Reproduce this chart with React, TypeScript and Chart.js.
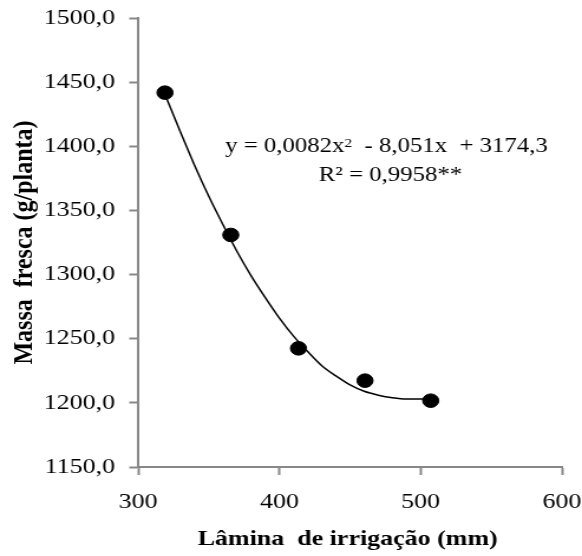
import React, { useEffect, useRef } from "react";
import { Chart, registerables } from "chart.js";

Chart.register(...registerables);

const irrigation = [319, 365.6, 413.5, 460.6, 507.1];
const freshMass = [1441.8, 1330.9, 1242.5, 1217.3, 1201.7];

const trendX = [318, 330, 340, 350, 360, 370, 380, 390, 400, 410, 420, 430, 440, 450, 460, 470, 480, 490, 500, 508];
const trendY = [1443, 1411, 1385, 1361, 1339, 1318, 1299, 1282, 1266, 1252, 1240, 1229, 1221, 1214, 1209, 1206, 1204, 1203, 1203, 1203.5];

const xTicks = [300, 400, 500, 600];
const yTicks = [1150, 1200, 1250, 1300, 1350, 1400, 1450, 1500];

const equationLine1 = ["y = 0,0082x", "2", "  - 8,051x  + 3174,3"];
const equationLine2 = "R² = 0,9958**";
const xTitle = "Lâmina  de irrigação (mm)";
const yTitle = "Massa  fresca (g/planta)";

const FONT = "'Liberation Serif', 'Times New Roman', serif";
const AXIS = "#888888";

// the reference is drawn on a narrower canvas that is stretched horizontally
const CANVAS_W = 493;
const CSS_W = 582;
const H = 556;

const textPlugin = {
  id: "texts",
  afterDraw(chart: any) {
    const ctx = chart.ctx;
    const area = chart.chartArea;
    const cx = 327.4;
    ctx.save();
    ctx.fillStyle = "#000";
    ctx.textBaseline = "alphabetic";
    ctx.font = `21px ${FONT}`;
    const a = ctx.measureText(equationLine1[0]).width;
    ctx.font = `13px ${FONT}`;
    const b = ctx.measureText(equationLine1[1]).width;
    ctx.font = `21px ${FONT}`;
    const c = ctx.measureText(equationLine1[2]).width;
    const total = a + b + c;
    let x = cx - total / 2;
    const y1 = 152;
    ctx.textAlign = "left";
    ctx.fillText(equationLine1[0], x, y1);
    x += a;
    ctx.font = `13px ${FONT}`;
    ctx.fillText(equationLine1[1], x, y1 - 5.5);
    x += b;
    ctx.font = `21px ${FONT}`;
    ctx.fillText(equationLine1[2], x, y1);
    ctx.textAlign = "center";
    ctx.fillText(equationLine2, 330.8, 181);
    // x axis title
    ctx.font = `bold 22px ${FONT}`;
    ctx.fillText(xTitle, (area.left + area.right) / 2 - 2, 545);
    ctx.restore();
  },
};

export default function App() {
  const ref = useRef<HTMLCanvasElement | null>(null);
  useEffect(() => {
    if (!ref.current) return;
    const chart = new Chart(ref.current, {
      type: "scatter",
      data: {
        datasets: [
          {
            type: "line",
            data: trendX.map((x, i) => ({ x, y: trendY[i] })),
            borderColor: "#000",
            borderWidth: 1.5,
            pointRadius: 0,
            cubicInterpolationMode: "monotone",
            fill: false,
            order: 2,
          } as any,
          {
            data: irrigation.map((x, i) => ({ x, y: freshMass[i] })),
            backgroundColor: "#000",
            borderColor: "#000",
            pointRadius: 6.8,
            pointHoverRadius: 6.8,
            order: 1,
          },
        ],
      },
      options: {
        responsive: false,
        animation: false,
        events: [],
        layout: { padding: { top: 18, right: 17, left: 0, bottom: 0 } },
        plugins: { legend: { display: false }, tooltip: { enabled: false } },
        scales: {
          x: {
            type: "linear",
            min: 300,
            max: 600,
            afterBuildTicks: (s: any) => {
              s.ticks = xTicks.map((v) => ({ value: v }));
            },
            afterFit: (s: any) => {
              s.height = 89;
              s.paddingLeft = 0;
              s.paddingRight = 0;
            },
            ticks: { color: "#000", font: { family: FONT, size: 22 }, padding: 14, maxRotation: 0 },
            grid: { display: true, drawOnChartArea: false, drawTicks: true, tickLength: 8, tickColor: AXIS, tickWidth: 2, color: AXIS },
            border: { display: true, color: AXIS, width: 2 },
            title: { display: false },
          },
          y: {
            type: "linear",
            min: 1150,
            max: 1500,
            afterBuildTicks: (s: any) => {
              s.ticks = yTicks.map((v) => ({ value: v }));
            },
            afterFit: (s: any) => {
              s.width = 117;
              s.paddingTop = 0;
              s.paddingBottom = 0;
            },
            ticks: {
              color: "#000",
              font: { family: FONT, size: 22 },
              padding: 12,
              callback: (v: any) => Number(v).toFixed(1).replace(".", ","),
            },
            grid: { display: true, drawOnChartArea: false, drawTicks: true, tickLength: 7.5, tickColor: AXIS, tickWidth: 2, color: AXIS },
            border: { display: true, color: AXIS, width: 2 },
            title: { display: true, text: yTitle, color: "#000", font: { family: FONT, size: 24, weight: "bold" }, padding: { top: 6, bottom: 0 } },
          },
        },
      } as any,
      plugins: [textPlugin],
    });
    return () => chart.destroy();
  }, []);
  return (
    <div style={{ position: "fixed", left: 0, top: 0, width: CSS_W, height: H, background: "#fff" }}>
      <canvas ref={ref} width={CANVAS_W} height={H} style={{ display: "block", width: `${CSS_W}px`, height: `${H}px` }} />
    </div>
  );
}
